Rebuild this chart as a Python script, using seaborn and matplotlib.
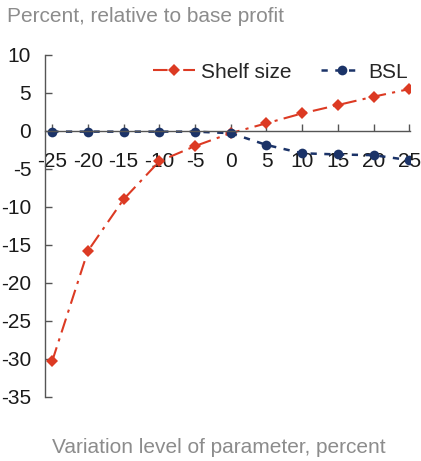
import matplotlib
matplotlib.use("Agg")
import matplotlib.pyplot as plt
import seaborn as sns
import pandas as pd

# Sensitivity of profit to parameter variation
variation = [-25, -20, -15, -10, -5, 0, 5, 10, 15, 20, 25]
shelf_size = [-30.3, -15.8, -9.0, -4.0, -2.0, -0.3, 1.0, 2.3, 3.4, 4.5, 5.5]
bsl = [-0.1, -0.1, -0.1, -0.1, -0.1, -0.3, -1.85, -2.95, -3.1, -3.2, -3.85]
series_names = ["Shelf size", "BSL"]
y_ticks = [10, 5, 0, -5, -10, -15, -20, -25, -30, -35]

RED = "#dc3a23"
NAVY = "#1b3368"
GRAY = "#8c8c8c"

sns.set_theme(style="white")
plt.rcParams["font.family"] = ["Liberation Sans", "DejaVu Sans"]

df = pd.DataFrame({
    "variation": variation * 2,
    "value": shelf_size + bsl,
    "series": [series_names[0]] * len(variation) + [series_names[1]] * len(variation),
})

fig = plt.figure(figsize=(4.21, 4.61), dpi=100)
ax = fig.add_axes([0.107, 0.139, 0.867, 0.742])

sns.lineplot(data=df[df.series == series_names[0]], x="variation", y="value",
             ax=ax, color=RED, marker="D", markersize=6, markeredgewidth=0,
             linewidth=1.5, dashes=False, label=series_names[0])
ax.lines[-1].set_dashes([7, 3, 1.5, 3])
sns.lineplot(data=df[df.series == series_names[1]], x="variation", y="value",
             ax=ax, color=NAVY, marker="o", markersize=7, markeredgewidth=0,
             linewidth=1.8, dashes=False, label=series_names[1])
ax.lines[-1].set_dashes([2.5, 3])

ax.set_xlim(-26, 25.1)
ax.set_ylim(-35, 10)

# spines: y axis on the left, x axis through zero
for side in ["top", "right"]:
    ax.spines[side].set_visible(False)
ax.spines["left"].set_color("#555555")
ax.spines["left"].set_linewidth(1.0)
ax.spines["bottom"].set_position(("data", 0))
ax.spines["bottom"].set_color("#555555")
ax.spines["bottom"].set_linewidth(1.0)

ax.set_xticks(variation)
ax.set_xticklabels([str(v) for v in variation])
ax.set_yticks(y_ticks)
ax.set_yticklabels([str(v) for v in y_ticks])
ax.tick_params(axis="x", direction="in", length=5, width=1, color="#555555",
               pad=15, labelsize=15, labelcolor="#1a1a1a", bottom=True)
ax.tick_params(axis="y", direction="in", length=5, width=1, color="#555555",
               pad=10, labelsize=15, labelcolor="#1a1a1a", left=True)
ax.set_xlabel("")
ax.set_ylabel("")
ax.grid(False)

leg = ax.legend(loc="upper right", bbox_to_anchor=(1.035, 1.02), ncol=2,
                frameon=False, fontsize=15, handlelength=2.0,
                handletextpad=0.3, columnspacing=1.4, borderpad=0.2)

fig.text(0.017, 0.965, "Percent, relative to base profit", color=GRAY,
         fontsize=15, ha="left", va="center")
fig.text(0.52, 0.03, "Variation level of parameter, percent", color=GRAY,
         fontsize=15, ha="center", va="center")

fig.savefig("out.png", dpi=100)
